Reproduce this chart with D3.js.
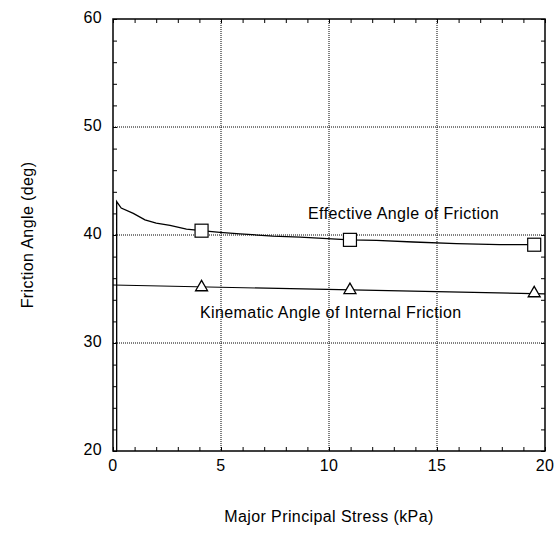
<!DOCTYPE html>
<html><head><meta charset="utf-8">
<script src="https://cdn.jsdelivr.net/npm/d3@7"></script>
<style>body{margin:0;background:#fff}svg{display:block}text{font-family:Arial,"Liberation Sans",sans-serif;letter-spacing:0.4px}</style>
</head><body>
<svg id="c" width="556" height="534"></svg>
<script>
const xTicks = [0, 5, 10, 15, 20];
const yTicks = [20, 30, 40, 50, 60];
const effX = [0.17, 0.17, 0.38, 0.94, 1.48, 2.0, 2.64, 3.4, 4.1, 4.95, 5.88, 7.4, 8.66, 10.97, 12.2, 13.9, 15.9, 17.9, 19.5];
const effY = [20, 43.1, 42.5, 42.0, 41.4, 41.1, 40.9, 40.55, 40.4, 40.25, 40.1, 39.9, 39.8, 39.55, 39.5, 39.35, 39.2, 39.1, 39.1];
const effMarkX = [4.1, 10.97, 19.5];
const effMarkY = [40.4, 39.55, 39.1];
const kinX = [0, 20];
const kinY = [35.37, 34.55];
const kinMarkX = [4.1, 10.97, 19.5];
const kinMarkY = [35.16, 34.9, 34.6];
const labels = ["Effective Angle of Friction", "Kinematic Angle of Internal Friction"];
const xTitle = "Major Principal Stress (kPa)";
const yTitle = "Friction Angle (deg)";

const svg = d3.select("#c");
const L = 113, R = 545, T = 19, B = 451;
const x = d3.scaleLinear().domain([0, 20]).range([L, R]);
const y = d3.scaleLinear().domain([20, 60]).range([B, T]);
const FS = 16;

// grid
const g = svg.append("g");
xTicks.slice(1, -1).forEach(v => g.append("line").attr("x1", x(v)).attr("x2", x(v)).attr("y1", T).attr("y2", B)
  .attr("stroke", "#000").attr("stroke-width", 1).attr("stroke-dasharray", "1,1"));
yTicks.slice(1, -1).forEach(v => g.append("line").attr("y1", y(v)).attr("y2", y(v)).attr("x1", L).attr("x2", R)
  .attr("stroke", "#000").attr("stroke-width", 1).attr("stroke-dasharray", "1,1"));

// axes with inward ticks
const minorX = d3.range(0, 21, 1), minorY = d3.range(20, 61, 2);
svg.append("g").attr("transform", `translate(0,${B})`)
  .call(d3.axisBottom(x).tickValues(minorX).tickSize(-4).tickFormat(""))
  .call(a => a.select(".domain").remove());
svg.append("g").attr("transform", `translate(0,${T})`)
  .call(d3.axisTop(x).tickValues(minorX).tickSize(-4).tickFormat(""))
  .call(a => a.select(".domain").remove());
svg.append("g").attr("transform", `translate(${L},0)`)
  .call(d3.axisLeft(y).tickValues(minorY).tickSize(-4).tickFormat(""))
  .call(a => a.select(".domain").remove());
svg.append("g").attr("transform", `translate(${R},0)`)
  .call(d3.axisRight(y).tickValues(minorY).tickSize(-4).tickFormat(""))
  .call(a => a.select(".domain").remove());
svg.selectAll(".tick line").attr("stroke", "#000").attr("stroke-width", 1);

// tick labels
svg.append("g").selectAll("text").data(xTicks).join("text")
  .attr("x", d => x(d)).attr("y", B + 20).attr("text-anchor", "middle")
  .attr("font-size", FS).text(d => d);
svg.append("g").selectAll("text").data(yTicks).join("text")
  .attr("x", L - 11).attr("y", d => y(d) + 3.5).attr("text-anchor", "end")
  .attr("font-size", FS).text(d => d);

// frame
svg.append("rect").attr("x", L).attr("y", T).attr("width", R - L).attr("height", B - T)
  .attr("fill", "none").attr("stroke", "#000").attr("stroke-width", 1.5);

// lines
const line = d3.line().x(d => x(d[0])).y(d => y(d[1]));
svg.append("path").datum(effX.map((v, i) => [v, effY[i]])).attr("d", line)
  .attr("fill", "none").attr("stroke", "#000").attr("stroke-width", 1.3);
svg.append("path").datum(kinX.map((v, i) => [v, kinY[i]])).attr("d", line)
  .attr("fill", "none").attr("stroke", "#000").attr("stroke-width", 1.1);

// markers
svg.append("g").selectAll("rect").data(effMarkX.map((v, i) => [v, effMarkY[i]])).join("rect")
  .attr("x", d => x(d[0]) - 6.5).attr("y", d => y(d[1]) - 6.5).attr("width", 13).attr("height", 13)
  .attr("fill", "#fff").attr("stroke", "#000").attr("stroke-width", 1.2);
const tri = d3.symbol().type(d3.symbolTriangle).size(62);
svg.append("g").selectAll("path").data(kinMarkX.map((v, i) => [v, kinMarkY[i]])).join("path")
  .attr("transform", d => `translate(${x(d[0])},${y(d[1])})`).attr("d", tri)
  .attr("fill", "#fff").attr("stroke", "#000").attr("stroke-width", 1.3);

// labels
svg.append("text").attr("x", 308).attr("y", 219).attr("font-size", FS).text(labels[0]);
svg.append("text").attr("x", 200).attr("y", 318).attr("font-size", FS).text(labels[1]);

// titles
svg.append("text").attr("x", (L + R) / 2).attr("y", 522).attr("text-anchor", "middle")
  .attr("font-size", FS).text(xTitle);
svg.append("text").attr("transform", `translate(33,${(T + B) / 2}) rotate(-90)`).attr("text-anchor", "middle")
  .attr("font-size", FS).text(yTitle);
</script>
</body></html>
